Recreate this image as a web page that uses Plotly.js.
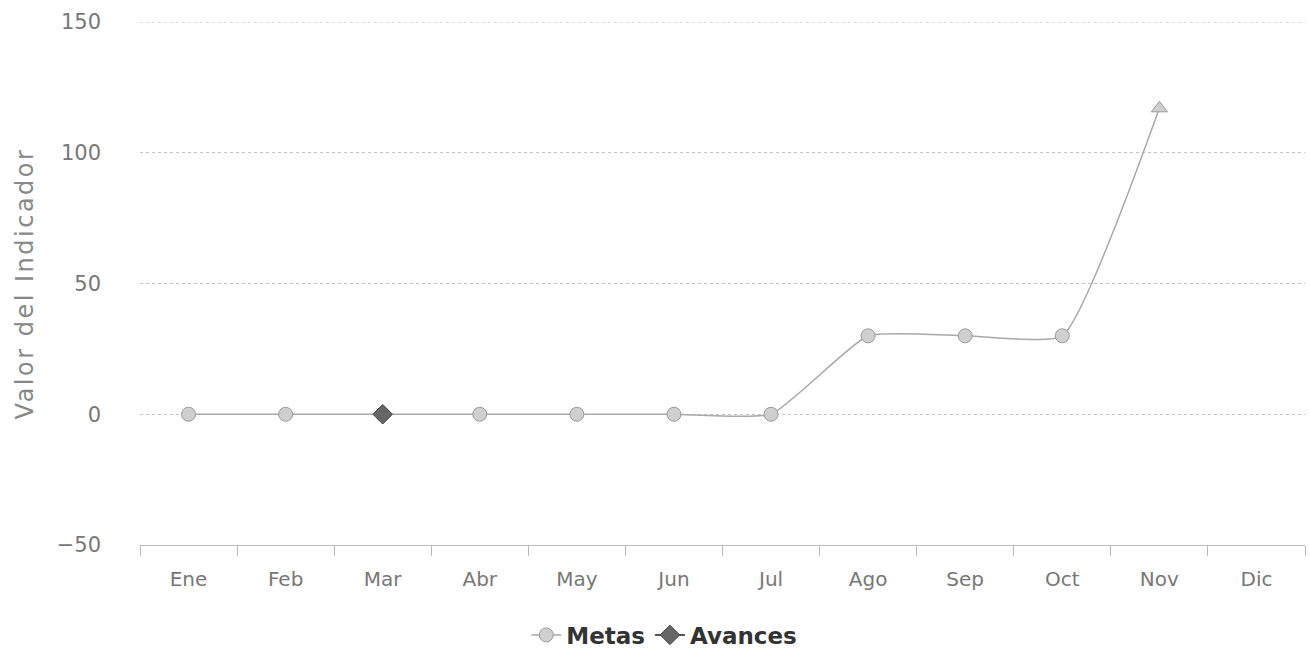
<!DOCTYPE html>
<html>
<head>
<meta charset="utf-8">
<script src="https://cdn.plot.ly/plotly-3.0.1.min.js"></script>
<style>html,body{margin:0;padding:0;background:#fff;}#chart{width:1310px;height:671px;}
#chart .ytitle{letter-spacing:2.5px;}</style>
</head>
<body>
<div id="chart"></div>
<script>
const months = ["Ene","Feb","Mar","Abr","May","Jun","Jul","Ago","Sep","Oct","Nov","Dic"];
const metas = [0,0,0,0,0,0,0,30,30,30,117,null];
const avances = [null,null,0,null,null,null,null,null,null,null,null,null];
const metasSymbols = ["circle","circle","circle","circle","circle","circle","circle","circle","circle","circle","triangle-up","circle"];
const yTicks = [-50, 0, 50, 100, 150];

const traces = [
  {
    x: months, y: metas, name: "Metas", type: "scatter", mode: "lines+markers",
    line: {color: "#a8a8a8", width: 1.5, shape: "spline", smoothing: 0.45},
    marker: {symbol: metasSymbols, size: 14, color: "#cfcfcf", line: {color: "#9a9a9a", width: 1}},
    connectgaps: false
  },
  {
    x: months, y: avances, name: "Avances", type: "scatter", mode: "lines+markers",
    line: {color: "#555", width: 2},
    marker: {symbol: "diamond", size: 15, color: "#666", line: {color: "#444", width: 1}}
  }
];

const layout = {
  width: 1310, height: 671,
  margin: {l: 140, r: 5, t: 22, b: 126, autoexpand: false},
  paper_bgcolor: "#fff", plot_bgcolor: "#fff",
  font: {family: "DejaVu Sans, Verdana, sans-serif", color: "#666"},
  xaxis: {
    type: "category", categoryorder: "array", categoryarray: months,
    range: [-0.5, 11.5], tickangle: 0,
    tickson: "boundaries", ticks: "outside", ticklen: 10, tickcolor: "#bbb",
    showgrid: false, showline: true, linecolor: "#bbb", linewidth: 1,
    tickfont: {size: 20, color: "#777"}, ticklabelstandoff: 16,
    zeroline: false
  },
  yaxis: {
    range: [-50, 150], tickvals: yTicks,
    showgrid: true, gridcolor: "#c4c4c4", griddash: "dot", gridwidth: 1,
    zeroline: false, showline: false, ticks: "",
    tickfont: {size: 21, color: "#777"}, ticklabelstandoff: 38,
    title: {text: "Valor del Indicador", font: {size: 24, color: "#888"}, standoff: 16}
  },
  shapes: [
    {type: "line", xref: "paper", x0: 0, x1: 1, yref: "y", y0: 150, y1: 150,
     line: {color: "#c4c4c4", width: 1, dash: "dot"}}
  ],
  legend: {
    orientation: "h", x: 0.45, xanchor: "center", y: -0.172, yanchor: "middle",
    font: {size: 23, color: "#333", weight: "bold"}, itemwidth: 30
  },
  showlegend: true
};

Plotly.newPlot("chart", traces, layout, {displayModeBar: false, staticPlot: true});
</script>
</body>
</html>
